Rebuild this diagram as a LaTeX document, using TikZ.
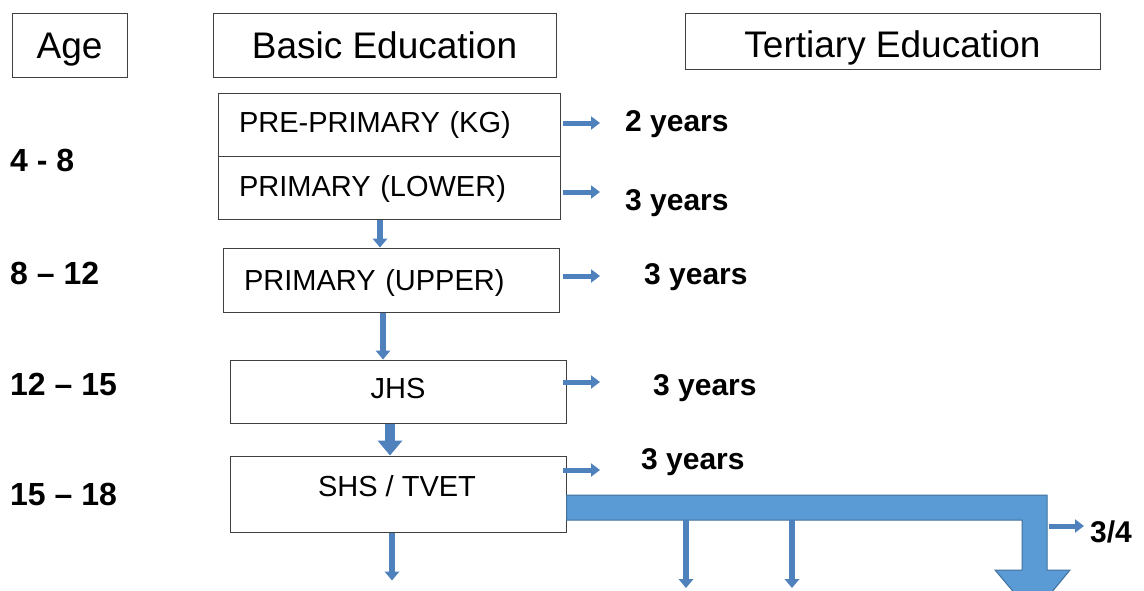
\documentclass[tikz,border=0pt]{standalone}
\usepackage{fontspec}
\setmainfont{Liberation Sans}
\usetikzlibrary{arrows.meta}
\definecolor{arrowblue}{RGB}{79, 129, 189}
\definecolor{bandblue}{RGB}{91, 155, 213}
\definecolor{edgeblue}{RGB}{65, 113, 156}
\definecolor{boxline}{RGB}{64, 64, 64}

\tikzset{
  headbox/.style={draw=boxline, line width=1pt, inner sep=0pt, text height=26.5pt, text depth=0pt, font=\fontsize{37}{42}\selectfont},
  levelbox/.style={draw=boxline, line width=1pt, inner sep=0pt, text height=20.8pt, text depth=0pt, font=\fontsize{29}{33}\selectfont},
  agetext/.style={anchor=west, inner sep=0pt, text height=22.9pt, text depth=0pt, font=\fontsize{32}{36}\selectfont\bfseries},
  yeartext/.style={anchor=west, inner sep=0pt, text height=21.5pt, text depth=0pt, font=\fontsize{30}{34}\selectfont\bfseries},
  rightarrow/.style={draw=arrowblue, line width=5pt, -{Triangle[width=13pt, length=9pt]}},
  downarrow/.style={draw=arrowblue, line width=#1, -{Triangle[width=2.4*#1, length=1.5*#1]}},
  downarrow/.default=6pt
}

\begin{document}
\begin{tikzpicture}[x=1pt, y=-1pt]

  \useasboundingbox (0, 0) rectangle (1144, 590);
  \fill[white] (0, 0) rectangle (1144, 590);
  \clip (0, 0) rectangle (1144, 590);

  % headers
  \node[headbox, minimum width=115, minimum height=64] (age) at (69.5, 45) {Age};
  \node[headbox, minimum width=343, minimum height=64] (basic) at (384.5, 45) {Basic Education};
  \node[headbox, minimum width=415, minimum height=56] (tertiary) at (892.5, 41) {\raisebox{-3pt}{Tertiary Education}};

  % school levels
  \node[levelbox, minimum width=342, minimum height=63, text width=300, inner xsep=21, align=left] (kg) at (389, 124.5) {\raisebox{2pt}{PRE-PRIMARY (KG)}};
  \node[levelbox, minimum width=342, minimum height=63, text width=300, inner xsep=21, align=left] (lower) at (389, 187.5) {\raisebox{1pt}{PRIMARY (LOWER)}};
  \node[levelbox, minimum width=336, minimum height=64, text width=294, inner xsep=21, align=left] (upper) at (391, 280) {PRIMARY (UPPER)};
  \node[levelbox, minimum width=336, minimum height=63] (jhs) at (398, 391.5) {\raisebox{3pt}{JHS}};
  \node[levelbox, minimum width=336, minimum height=76] (shs) at (398, 494) {};
  \node[levelbox, draw=none] (shslabel) at (397, 486) {SHS / TVET};

  % ages
  \foreach \y/\a [count=\n] in {160/4 - 8, 273/8 -- 12, 384/12 -- 15, 494/15 -- 18} {
    \node[agetext] (agelabel\n) at (10, \y) {\a};
  }

  % durations
  \foreach \ya/\yt/\xt/\t [count=\n] in {123/121/625/2, 192/200/625/3, 276/274/644/3, 382/385/653/3, 470/459/641/3} {
    \coordinate (arrowstart\n) at (563, \ya);
    \node[yeartext] (years\n) at (\xt, \yt) {\t{} years};
    \draw[rightarrow] (arrowstart\n) -- ++(37, 0);
  }

  % arrows between levels
  \draw[downarrow] ([xshift=-9]lower.south) -- ([xshift=-11]upper.north);
  \draw[downarrow] ([xshift=-8]upper.south) -- ([xshift=-15]jhs.north);
  \draw[downarrow=10pt] ([xshift=-8]jhs.south) -- ([xshift=-8]shs.north);
  \draw[downarrow] ([xshift=-6]shs.south) -- ++(0, 48);

  % band to tertiary
  \fill[bandblue, draw=edgeblue, line width=1pt]
    (shs.east |- 0, 495) -- (1047, 495) -- (1047, 570) -- (1070, 570) -- (1033, 615)
    -- (995, 570) -- (1022, 570) -- (1022, 520) -- (shs.east |- 0, 520) -- cycle;
  \draw[downarrow] (686, 520) -- (686, 588);
  \draw[downarrow] (792, 520) -- (792, 588);

  \coordinate (bandside) at (1049, 526);
  \node[yeartext] (fraction) at (1090, 532) {3/4};
  \draw[rightarrow] (bandside) -- ([xshift=-6]bandside -| fraction.west);

\end{tikzpicture}
\end{document}
